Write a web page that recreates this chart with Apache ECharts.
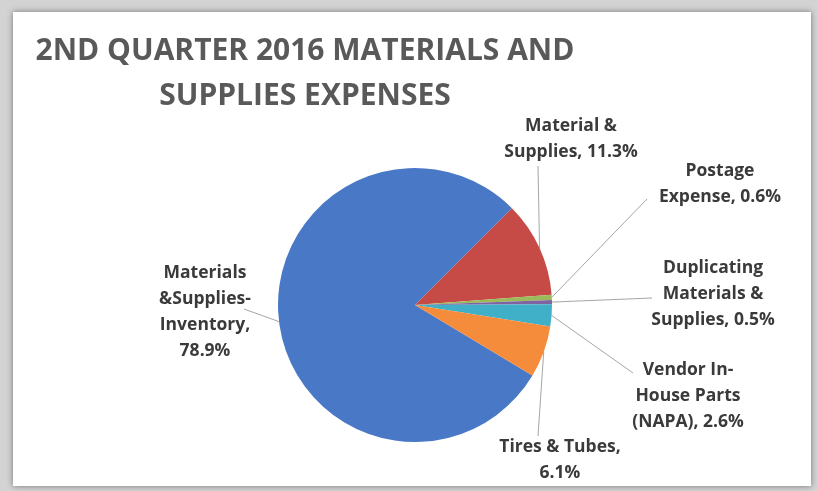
<!DOCTYPE html>
<html>
<head>
<meta charset="utf-8">
<script src="https://cdn.jsdelivr.net/npm/echarts@6/dist/echarts.min.js"></script>
<style>
  html, body { margin: 0; padding: 0; background: #d3d3d3; }
  #chart { width: 817px; height: 491px; }
</style>
</head>
<body>
<div id="chart"></div>
<script>
// Expense categories (label text wraps where the name breaks) and their shares in percent
const categories = [
  'Materials\n&Supplies-\nInventory',
  'Material &\nSupplies',
  'Postage\nExpense',
  'Duplicating\nMaterials &\nSupplies',
  'Vendor In-\nHouse Parts\n(NAPA)',
  'Tires & Tubes'
];
const shares = [78.9, 11.3, 0.6, 0.5, 2.6, 6.1];
const titleLines = ['2ND QUARTER 2016 MATERIALS AND', 'SUPPLIES EXPENSES'];

// Separator placed between a category name and its percentage
const valueSeparators = [',\n', ', ', ', ', ', ', ', ', ',\n'];
const sliceColors = ['#4878c6', '#c64b47', '#9bbb59', '#8064a2', '#3fb0c8', '#f58c3c'];
// Label block centres and the outer end of each leader line
const labelCenters = [[205, 312], [571, 139], [720, 184], [713, 294], [688, 396], [560, 460]];
const lineEnds = [[244, 309], [538, 166], [647, 199], [652, 298], [633, 373], [538, 436]];

const chart = echarts.init(document.getElementById('chart'), null, { renderer: 'canvas' });

const option = {
  backgroundColor: '#d3d3d3',
  animation: false,
  graphic: [
    {
      type: 'rect',
      shape: { x: 13, y: 12, width: 798, height: 474 },
      style: { fill: '#ffffff', shadowBlur: 6, shadowColor: 'rgba(0,0,0,0.45)', shadowOffsetX: 0, shadowOffsetY: 0 },
      z: 0
    },
    {
      type: 'text',
      x: 305, y: 29,
      style: {
        text: titleLines.join('\n'),
        fill: '#595959',
        font: 'bold 30px "Open Sans"',
        lineHeight: 45,
        align: 'center',
        verticalAlign: 'top'
      },
      z: 5
    }
  ],
  series: [{
    type: 'pie',
    center: [415, 305],
    radius: 137,
    startAngle: -31,
    clockwise: true,
    avoidLabelOverlap: false,
    color: sliceColors,
    itemStyle: { borderWidth: 0 },
    emphasis: { disabled: true },
    label: {
      show: true,
      position: 'outside',
      fontFamily: 'Open Sans',
      fontWeight: 'bold',
      fontSize: 17.5,
      lineHeight: 26,
      color: '#3a3a3a',
      align: 'center',
      formatter: p => p.name + valueSeparators[p.dataIndex] + p.value.toFixed(1) + '%'
    },
    labelLine: {
      show: true,
      length: 10,
      length2: 10,
      lineStyle: { color: '#a6a6a6', width: 1 }
    },
    labelLayout: function (params) {
      const i = params.dataIndex;
      const start = params.labelLinePoints ? params.labelLinePoints[0] : lineEnds[i];
      const end = lineEnds[i];
      return {
        x: labelCenters[i][0],
        y: labelCenters[i][1],
        align: 'center',
        verticalAlign: 'middle',
        labelLinePoints: [start, end, end]
      };
    },
    data: categories.map((name, i) => ({ name: name, value: shares[i] }))
  }]
};

chart.setOption(option);
</script>
</body>
</html>
